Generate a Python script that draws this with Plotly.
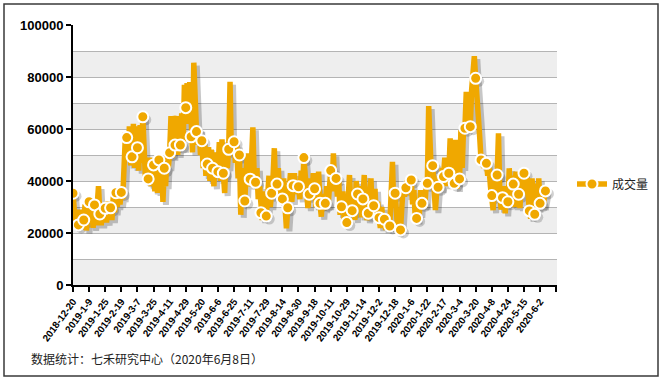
import plotly.graph_objects as go

# ---------------- data ----------------
tick_labels = ["2018-12-20", "2019-1-9", "2019-1-25", "2019-2-19", "2019-3-7", "2019-3-25",
               "2019-4-11", "2019-4-29", "2019-5-20", "2019-6-6", "2019-6-25", "2019-7-11",
               "2019-7-29", "2019-8-14", "2019-8-30", "2019-9-18", "2019-10-11", "2019-10-29",
               "2019-11-14", "2019-12-2", "2019-12-18", "2020-1-6", "2020-1-22", "2020-2-17",
               "2020-3-4", "2020-3-20", "2020-4-8", "2020-4-24", "2020-5-15", "2020-6-2"]
label_every = 12          # trading days between labelled dates
marker_every = 4          # a marker is shown on every 4th trading day

volume = [
    35300, 27000, 22000, 26000, 23100, 29000, 22500, 28000, 25000, 31000, 21000, 27000,
    32000, 24000, 29000, 22000, 30800, 23000, 30000, 38000, 27300, 23000, 31000, 25000,
    29500, 24000, 32000, 26000, 29700, 25000, 34000, 28000, 35500, 30000, 36000, 31000,
    35600, 33000, 45000, 57000, 56700, 48000, 61000, 46000, 49300, 62000, 45000, 61000,
    52800, 44000, 61500, 47000, 64700, 55000, 40400, 47000, 40800, 49000, 38000, 48000,
    46200, 36000, 47000, 35400, 48100, 40000, 49000, 32000, 44900, 38000, 50000, 45000,
    50900, 65000, 49000, 65000, 53800, 65000, 50000, 64000, 53800, 66000, 52000, 77000,
    68200, 77600, 62000, 78000, 57000, 51000, 85500, 60000, 59000, 54000, 60000, 50000,
    55500, 45000, 54000, 42000, 46500, 53000, 40000, 52000, 44900, 38000, 51000, 42000,
    43600, 55000, 40000, 56000, 43000, 35400, 50000, 45000, 52200, 78200, 50000, 57000,
    55100, 47000, 54000, 41000, 50000, 27000, 45000, 35000, 32300, 44000, 50600, 38000,
    40700, 48000, 60600, 42000, 39500, 45000, 33000, 38000, 27800, 25000, 36000, 29000,
    26500, 34000, 42000, 30000, 35300, 41000, 52600, 36000, 38800, 45000, 33000, 40000,
    33100, 41000, 30000, 21800, 29700, 36000, 43000, 32000, 38200, 43000, 35000, 40000,
    37800, 33000, 44000, 36000, 49000, 40000, 34000, 29600, 34900, 41000, 33000, 43000,
    37000, 30000, 38000, 43600, 31400, 26300, 35000, 29000, 31400, 38000, 30000, 41000,
    44000, 36000, 50600, 38000, 41000, 34000, 40000, 27000, 30100, 36000, 25000, 33000,
    24000, 32000, 42300, 30000, 28600, 36000, 25000, 40000, 35000, 29000, 38000, 26000,
    33100, 42300, 30000, 25000, 27600, 35000, 41000, 26000, 30500, 37000, 25000, 32000,
    25900, 22000, 30000, 24000, 25300, 21200, 27000, 22000, 22700, 34000, 47400, 30000,
    35300, 28000, 19900, 26000, 21200, 30000, 38000, 34000, 37400, 40000, 35000, 39000,
    40400, 31000, 36500, 25600, 25600, 33000, 27000, 36500, 31400, 36000, 30000, 37000,
    39100, 68800, 50000, 42000, 45900, 37000, 28800, 36000, 37600, 42000, 36500, 45000,
    41700, 49000, 38000, 47000, 43000, 56400, 40000, 52000, 39100, 55800, 37000, 52000,
    40800, 59600, 45000, 61000, 60300, 74300, 62000, 70000, 60900, 75000, 84000, 88000,
    79500, 65000, 64700, 57000, 48100, 50000, 45000, 48000, 46800, 42000, 45000, 38000,
    34400, 28800, 40000, 36000, 42300, 58300, 35000, 29000, 33600, 38000, 27600, 36000,
    32000, 44900, 35000, 42000, 38800, 30000, 43600, 33000, 34900, 29600, 42000, 35000,
    43000, 36000, 41700, 30000, 28500, 25600, 41000, 33000, 27200, 39000, 29000, 41000,
    31400, 36000, 30000, 33000, 36200,
]
series_name = "成交量"
source_note = "数据统计：七禾研究中心（2020年6月8日）"

# ---------------- styling ----------------
ORANGE = "#F0A800"
W, H = 662, 379
L, R, T, B = 73, 105, 25, 94
plot_w = W - L - R
plot_h = H - T - B

x = list(range(len(volume)))
x_max = 360.6
y_max = 100000

mk_color = [ORANGE if i % marker_every == 0 else "rgba(0,0,0,0)" for i in x]
mk_line = ["white" if i % marker_every == 0 else "rgba(0,0,0,0)" for i in x]
sh_color = ["rgba(0,0,0,0.18)" if i % marker_every == 0 else "rgba(0,0,0,0)" for i in x]

# shadow offset in pixels -> data units
sx, sy = 3, 3
dx = sx * x_max / plot_w
dy = sy * y_max / plot_h

tickvals = list(range(0, int(x_max) + 1, label_every))
ticktext = [tick_labels[k] if k < len(tick_labels) else "" for k in range(len(tickvals))]

fig = go.Figure()

# shadow (on offset overlay axes)
fig.add_trace(go.Scatter(
    x=x, y=volume, xaxis="x2", yaxis="y2", mode="lines+markers",
    line=dict(color="rgba(0,0,0,0.22)", width=6),
    marker=dict(size=11, color=sh_color, line=dict(width=0)),
    showlegend=False, hoverinfo="skip"))

# main series
fig.add_trace(go.Scatter(
    x=x, y=volume, xaxis="x3", yaxis="y3", mode="lines+markers", name=series_name,
    line=dict(color=ORANGE, width=5.5),
    marker=dict(size=11, color=mk_color, line=dict(color=mk_line, width=2)),
    showlegend=True))

# base axes (visible)
fig.add_trace(go.Scatter(x=[None], y=[None], showlegend=False, hoverinfo="skip"))

shapes = []
for b in range(0, y_max, 20000):
    shapes.append(dict(type="rect", xref="x", yref="y", x0=0, x1=x_max, y0=b, y1=b + 10000,
                       fillcolor="#EEEEEE", line=dict(width=0), layer="below"))
# outer frame
shapes.append(dict(type="rect", xref="paper", yref="paper",
                   x0=(4 - L) / plot_w, x1=(658 - L) / plot_w,
                   y0=(H - B - 376) / plot_h, y1=(H - B - 4) / plot_h,
                   line=dict(color="#3a3a3a", width=1.5), fillcolor="rgba(0,0,0,0)", layer="below"))

tickfont_x = dict(family="Liberation Sans, Arial", size=9.8, color="black", weight="bold")
tickfont_y = dict(family="Liberation Sans, Arial", size=13, color="black", weight="bold")

fig.update_layout(
    width=W, height=H,
    margin=dict(l=L, r=R, t=T, b=B, autoexpand=False),
    paper_bgcolor="white", plot_bgcolor="white",
    shapes=shapes,
    xaxis=dict(range=[0, x_max], tickmode="array", tickvals=tickvals, ticktext=ticktext,
               tickangle=-54, tickfont=tickfont_x, ticks="outside", ticklen=5, tickwidth=2,
               tickcolor="black", showline=True, linecolor="black", linewidth=2,
               showgrid=False, zeroline=False, fixedrange=True, automargin=False),
    yaxis=dict(range=[0, y_max], tickmode="array", tickvals=list(range(0, y_max + 1, 20000)),
               tickfont=tickfont_y, ticks="outside", ticklen=5, tickwidth=2, tickcolor="black",
               showline=True, linecolor="black", linewidth=2, showgrid=True,
               gridcolor="#B4B4B4", gridwidth=1, zeroline=False, automargin=False,
               minor=dict(dtick=10000, tick0=0, showgrid=True, gridcolor="#B4B4B4", gridwidth=1),
               tickformat="d", fixedrange=True),
    xaxis2=dict(overlaying="x", range=[-dx, x_max - dx], visible=False),
    yaxis2=dict(overlaying="y", range=[dy, y_max + dy], visible=False),
    xaxis3=dict(overlaying="x", range=[0, x_max], visible=False),
    yaxis3=dict(overlaying="y", range=[0, y_max], visible=False),
    legend=dict(x=(572 - L) / plot_w, xanchor="left", y=(H - B - 184) / plot_h, yanchor="middle",
                font=dict(family="Noto Sans CJK SC", size=12, color="#222"),
                bgcolor="rgba(0,0,0,0)", borderwidth=0),
    annotations=[dict(text=source_note, xref="paper", yref="paper",
                      x=(29 - L) / plot_w, y=(H - B - 358) / plot_h, xanchor="left", yanchor="middle",
                      showarrow=False, font=dict(family="Noto Sans CJK SC", size=12, color="#222"))],
)

fig.write_html("out.html", config={"displayModeBar": False},
               post_script="document.body.style.margin='0';")
